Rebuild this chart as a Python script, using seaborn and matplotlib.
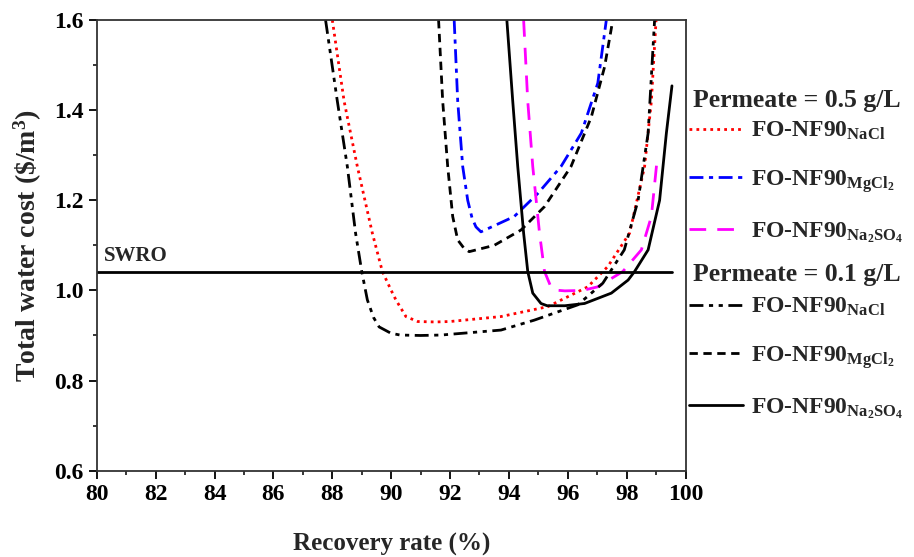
import numpy as np
import pandas as pd
import matplotlib
matplotlib.use("Agg")
import matplotlib.pyplot as plt
import seaborn as sns

# Curves (recovery rate %, total water cost $/m3)
nacl_05_x = [88.0, 88.4, 88.85, 89.36, 89.7, 90.0, 90.16, 90.5, 90.9, 91.5, 92.0, 93.73, 95.32, 96.68, 97.36, 98.1, 98.61, 98.84, 99.0]
nacl_05_y = [1.60, 1.42, 1.275, 1.127, 1.042, 1.0, 0.979, 0.942, 0.931, 0.930, 0.931, 0.942, 0.964, 1.008, 1.053, 1.127, 1.275, 1.42, 1.60]

mgcl2_05_x = [92.14, 92.26, 92.43, 92.6, 92.75, 92.88, 93.05, 94.18, 94.98, 95.77, 96.46, 97.02, 97.31]
mgcl2_05_y = [1.60, 1.42, 1.275, 1.20, 1.16, 1.141, 1.130, 1.164, 1.215, 1.275, 1.349, 1.46, 1.60]

na2so4_05_x = [94.5, 94.64, 94.81, 95.04, 95.21, 95.4, 95.55, 95.9, 96.5, 97.02, 97.87, 98.5, 98.84, 99.05]
na2so4_05_y = [1.60, 1.42, 1.275, 1.127, 1.042, 1.012, 1.001, 0.999, 1.0, 1.008, 1.042, 1.09, 1.164, 1.30]

nacl_01_x = [87.77, 88.17, 88.51, 88.79, 89.0, 89.19, 89.4, 89.59, 89.99, 90.3, 91.0, 91.7, 93.73, 94.86, 96.34, 97.19, 97.92, 98.39, 98.73, 98.95]
nacl_01_y = [1.60, 1.42, 1.275, 1.127, 1.042, 0.979, 0.94, 0.919, 0.905, 0.901, 0.900, 0.901, 0.912, 0.934, 0.968, 1.016, 1.09, 1.20, 1.349, 1.60]

mgcl2_01_x = [91.61, 91.75, 91.92, 92.09, 92.26, 92.48, 92.65, 93.5, 94.41, 95.21, 96.11, 96.8, 97.25, 97.53]
mgcl2_01_y = [1.60, 1.42, 1.275, 1.164, 1.112, 1.093, 1.086, 1.10, 1.134, 1.186, 1.275, 1.385, 1.496, 1.60]

na2so4_01_x = [93.93, 94.13, 94.3, 94.5, 94.64, 94.81, 95.09, 95.3, 95.9, 96.57, 97.48, 98.05, 98.27, 98.73, 99.12, 99.35, 99.54]
na2so4_01_y = [1.60, 1.42, 1.275, 1.127, 1.042, 0.994, 0.971, 0.966, 0.966, 0.971, 0.994, 1.023, 1.042, 1.09, 1.20, 1.349, 1.454]

swro_x = [80.0, 99.54]
swro_y = [1.04, 1.04]

sns.set_theme(style="ticks")
plt.rcParams["font.family"] = ["Liberation Serif", "DejaVu Serif"]
plt.rcParams["font.weight"] = "bold"
plt.rcParams["mathtext.fontset"] = "custom"
plt.rcParams["mathtext.rm"] = "Liberation Serif:bold"
plt.rcParams["mathtext.bf"] = "Liberation Serif:bold"
plt.rcParams["mathtext.it"] = "Liberation Serif:bold"

fig = plt.figure(figsize=(9.14, 5.57), dpi=100)
ax = fig.add_axes([0.106, 0.155, 0.644, 0.809])

def draw(x, y, color, dashes, label):
    df = pd.DataFrame({"x": x, "y": y})
    sns.lineplot(data=df, x="x", y="y", ax=ax, color=color, linewidth=2,
                 sort=False, estimator=None, label=label)
    ln = ax.lines[-1]
    if dashes is not None:
        ln.set_dashes(dashes)
    return ln

sub = {
    "NaCl": "FO-NF90$_{\\mathrm{NaCl}}$",
    "MgCl2": "FO-NF90$_{\\mathrm{MgCl_2}}$",
    "Na2SO4": "FO-NF90$_{\\mathrm{Na_2SO_4}}$",
}

h1 = draw(nacl_05_x, nacl_05_y, "red", (1, 1.5), sub["NaCl"])
h2 = draw(mgcl2_05_x, mgcl2_05_y, "blue", (5, 2, 1.5, 2), sub["MgCl2"])
h3 = draw(na2so4_05_x, na2so4_05_y, "magenta", (6, 4), sub["Na2SO4"])
h4 = draw(nacl_01_x, nacl_01_y, "black", (5, 2, 1.5, 2, 1.5, 2), sub["NaCl"])
h5 = draw(mgcl2_01_x, mgcl2_01_y, "black", (3, 2), sub["MgCl2"])
h6 = draw(na2so4_01_x, na2so4_01_y, "black", None, sub["Na2SO4"])
sns.lineplot(x=swro_x, y=swro_y, ax=ax, color="black", linewidth=2, estimator=None)
if ax.get_legend():
    ax.get_legend().remove()

ax.text(80.25, 1.055, "SWRO", fontsize=15, fontweight="bold", va="bottom")

ax.set_xlim(80, 100)
ax.set_ylim(0.6, 1.6)
ax.set_xticks(np.arange(80, 101, 2))
ax.set_xticks(np.arange(80, 101, 1), minor=True)
ax.set_yticks(np.arange(0.6, 1.61, 0.2))
ax.set_yticks(np.arange(0.6, 1.61, 0.1), minor=True)
ax.yaxis.set_major_formatter(matplotlib.ticker.FormatStrFormatter("%.1f"))
ax.tick_params(which="major", direction="out", length=6, width=1.3, labelsize=17, colors="black")
ax.tick_params(which="minor", direction="out", length=3, width=1.3)
for s in ax.spines.values():
    s.set_linewidth(1.3)
    s.set_color("#333333")

ax.set_xlabel("Recovery rate (%)", fontsize=18, fontweight="bold", labelpad=20)
ax.set_ylabel("Total water cost (\\$/m$^3$)", fontsize=20, fontweight="bold", labelpad=7)

# group headings of the legend
fig.text(693 / 914, 1 - 100 / 557, "Permeate = 0.5 g/L", fontsize=18.5, fontweight="bold", va="center")
fig.text(693 / 914, 1 - 275 / 557, "Permeate = 0.1 g/L", fontsize=18.5, fontweight="bold", va="center")

leg_kw = dict(frameon=False, fontsize=17, handlelength=2.3, handletextpad=0.3,
              labelspacing=1.08, borderaxespad=0, borderpad=0.0, loc="upper left")
leg1 = fig.legend([h1, h2, h3], [sub["NaCl"], sub["MgCl2"], sub["Na2SO4"]],
                  bbox_to_anchor=(0.754, 1 - 120 / 557), **leg_kw)
leg2 = fig.legend([h4, h5, h6], [sub["NaCl"], sub["MgCl2"], sub["Na2SO4"]],
                  bbox_to_anchor=(0.754, 1 - 296 / 557), **leg_kw)

fig.savefig("out.png", dpi=100)
